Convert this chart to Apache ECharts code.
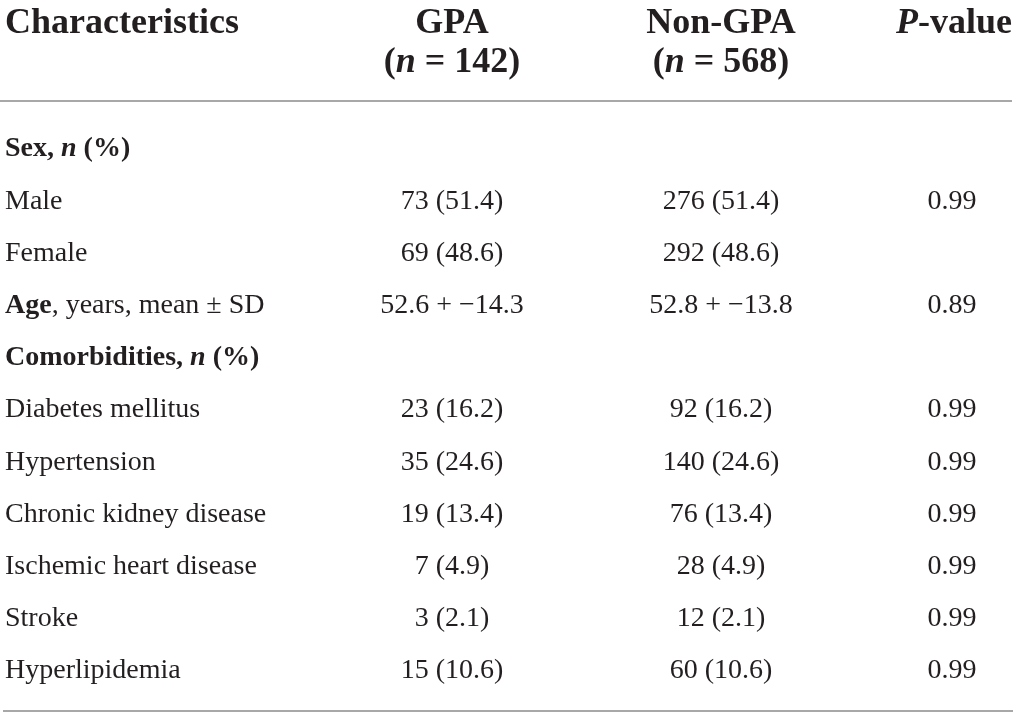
<!DOCTYPE html>
<html>
<head>
<meta charset="utf-8">
<script src="https://cdn.jsdelivr.net/npm/echarts@6/dist/echarts.min.js"></script>
<style>
  html, body { margin: 0; padding: 0; background: #fff; }
  #main { width: 1017px; height: 717px; }
</style>
</head>
<body>
<div id="main"></div>
<script>
// table content
const headers = ['Characteristics', 'GPA', 'Non-GPA', 'P-value']
const groupSizes = ['142', '568']
const rowLabels = [
  '{b|Sex,} {bi|n} {b|(%)}',
  'Male',
  'Female',
  '{b|Age}, years, mean ± SD',
  '{b|Comorbidities,} {bi|n} {b|(%)}',
  'Diabetes mellitus',
  'Hypertension',
  'Chronic kidney disease',
  'Ischemic heart disease',
  'Stroke',
  'Hyperlipidemia'
]
const gpaValues = ['', '73 (51.4)', '69 (48.6)', '52.6 + −14.3', '', '23 (16.2)', '35 (24.6)', '19 (13.4)', '7 (4.9)', '3 (2.1)', '15 (10.6)']
const nonGpaValues = ['', '276 (51.4)', '292 (48.6)', '52.8 + −13.8', '', '92 (16.2)', '140 (24.6)', '76 (13.4)', '28 (4.9)', '12 (2.1)', '60 (10.6)']
const pValues = ['', '0.99', '', '0.89', '', '0.99', '0.99', '0.99', '0.99', '0.99', '0.99']

const FONT = '"Liberation Serif", "DejaVu Serif", serif'
const INK = '#231f20'
const BODY = 28
const HEAD = 36
const colX = [5, 452, 721, 952]
const rowTop = 149
const rowStep = 52.2

const rich = {
  b: { fontFamily: FONT, fontWeight: 'bold', fontSize: BODY, fill: INK },
  bi: { fontFamily: FONT, fontWeight: 'bold', fontStyle: 'italic', fontSize: BODY, fill: INK }
}
const hrich = {
  h: { fontFamily: FONT, fontWeight: 'bold', fontSize: HEAD, fill: INK },
  hi: { fontFamily: FONT, fontWeight: 'bold', fontStyle: 'italic', fontSize: HEAD, fill: INK }
}

function txt(x, y, text, align, size, r) {
  return {
    type: 'text',
    x: x,
    y: y,
    style: {
      text: text,
      fontFamily: FONT,
      fontSize: size,
      fill: INK,
      align: align,
      verticalAlign: 'middle',
      rich: r
    }
  }
}

const elements = []

// header
elements.push(txt(colX[0], 24, '{h|' + headers[0] + '}', 'left', HEAD, hrich))
elements.push(txt(colX[1], 24, '{h|' + headers[1] + '}', 'center', HEAD, hrich))
elements.push(txt(colX[2], 24, '{h|' + headers[2] + '}', 'center', HEAD, hrich))
elements.push(txt(1012, 24, '{hi|P}{h|-value}', 'right', HEAD, hrich))
elements.push(txt(colX[1], 63, '{h|(}{hi|n}{h| = ' + groupSizes[0] + ')}', 'center', HEAD, hrich))
elements.push(txt(colX[2], 63, '{h|(}{hi|n}{h| = ' + groupSizes[1] + ')}', 'center', HEAD, hrich))

// rules
elements.push({ type: 'line', shape: { x1: 0, y1: 101, x2: 1012, y2: 101 }, style: { stroke: '#a8a8a8', lineWidth: 2 } })
elements.push({ type: 'line', shape: { x1: 3, y1: 711, x2: 1013, y2: 711 }, style: { stroke: '#a8a8a8', lineWidth: 2 } })

// body rows
rowLabels.forEach((label, i) => {
  const y = rowTop + i * rowStep
  elements.push(txt(colX[0], y, label, 'left', BODY, rich))
  if (gpaValues[i]) elements.push(txt(colX[1], y, gpaValues[i], 'center', BODY, rich))
  if (nonGpaValues[i]) elements.push(txt(colX[2], y, nonGpaValues[i], 'center', BODY, rich))
  if (pValues[i]) elements.push(txt(colX[3], y, pValues[i], 'center', BODY, rich))
})

const chart = echarts.init(document.getElementById('main'))
chart.setOption({
  backgroundColor: '#fff',
  animation: false,
  graphic: { elements: elements }
})
</script>
</body>
</html>
